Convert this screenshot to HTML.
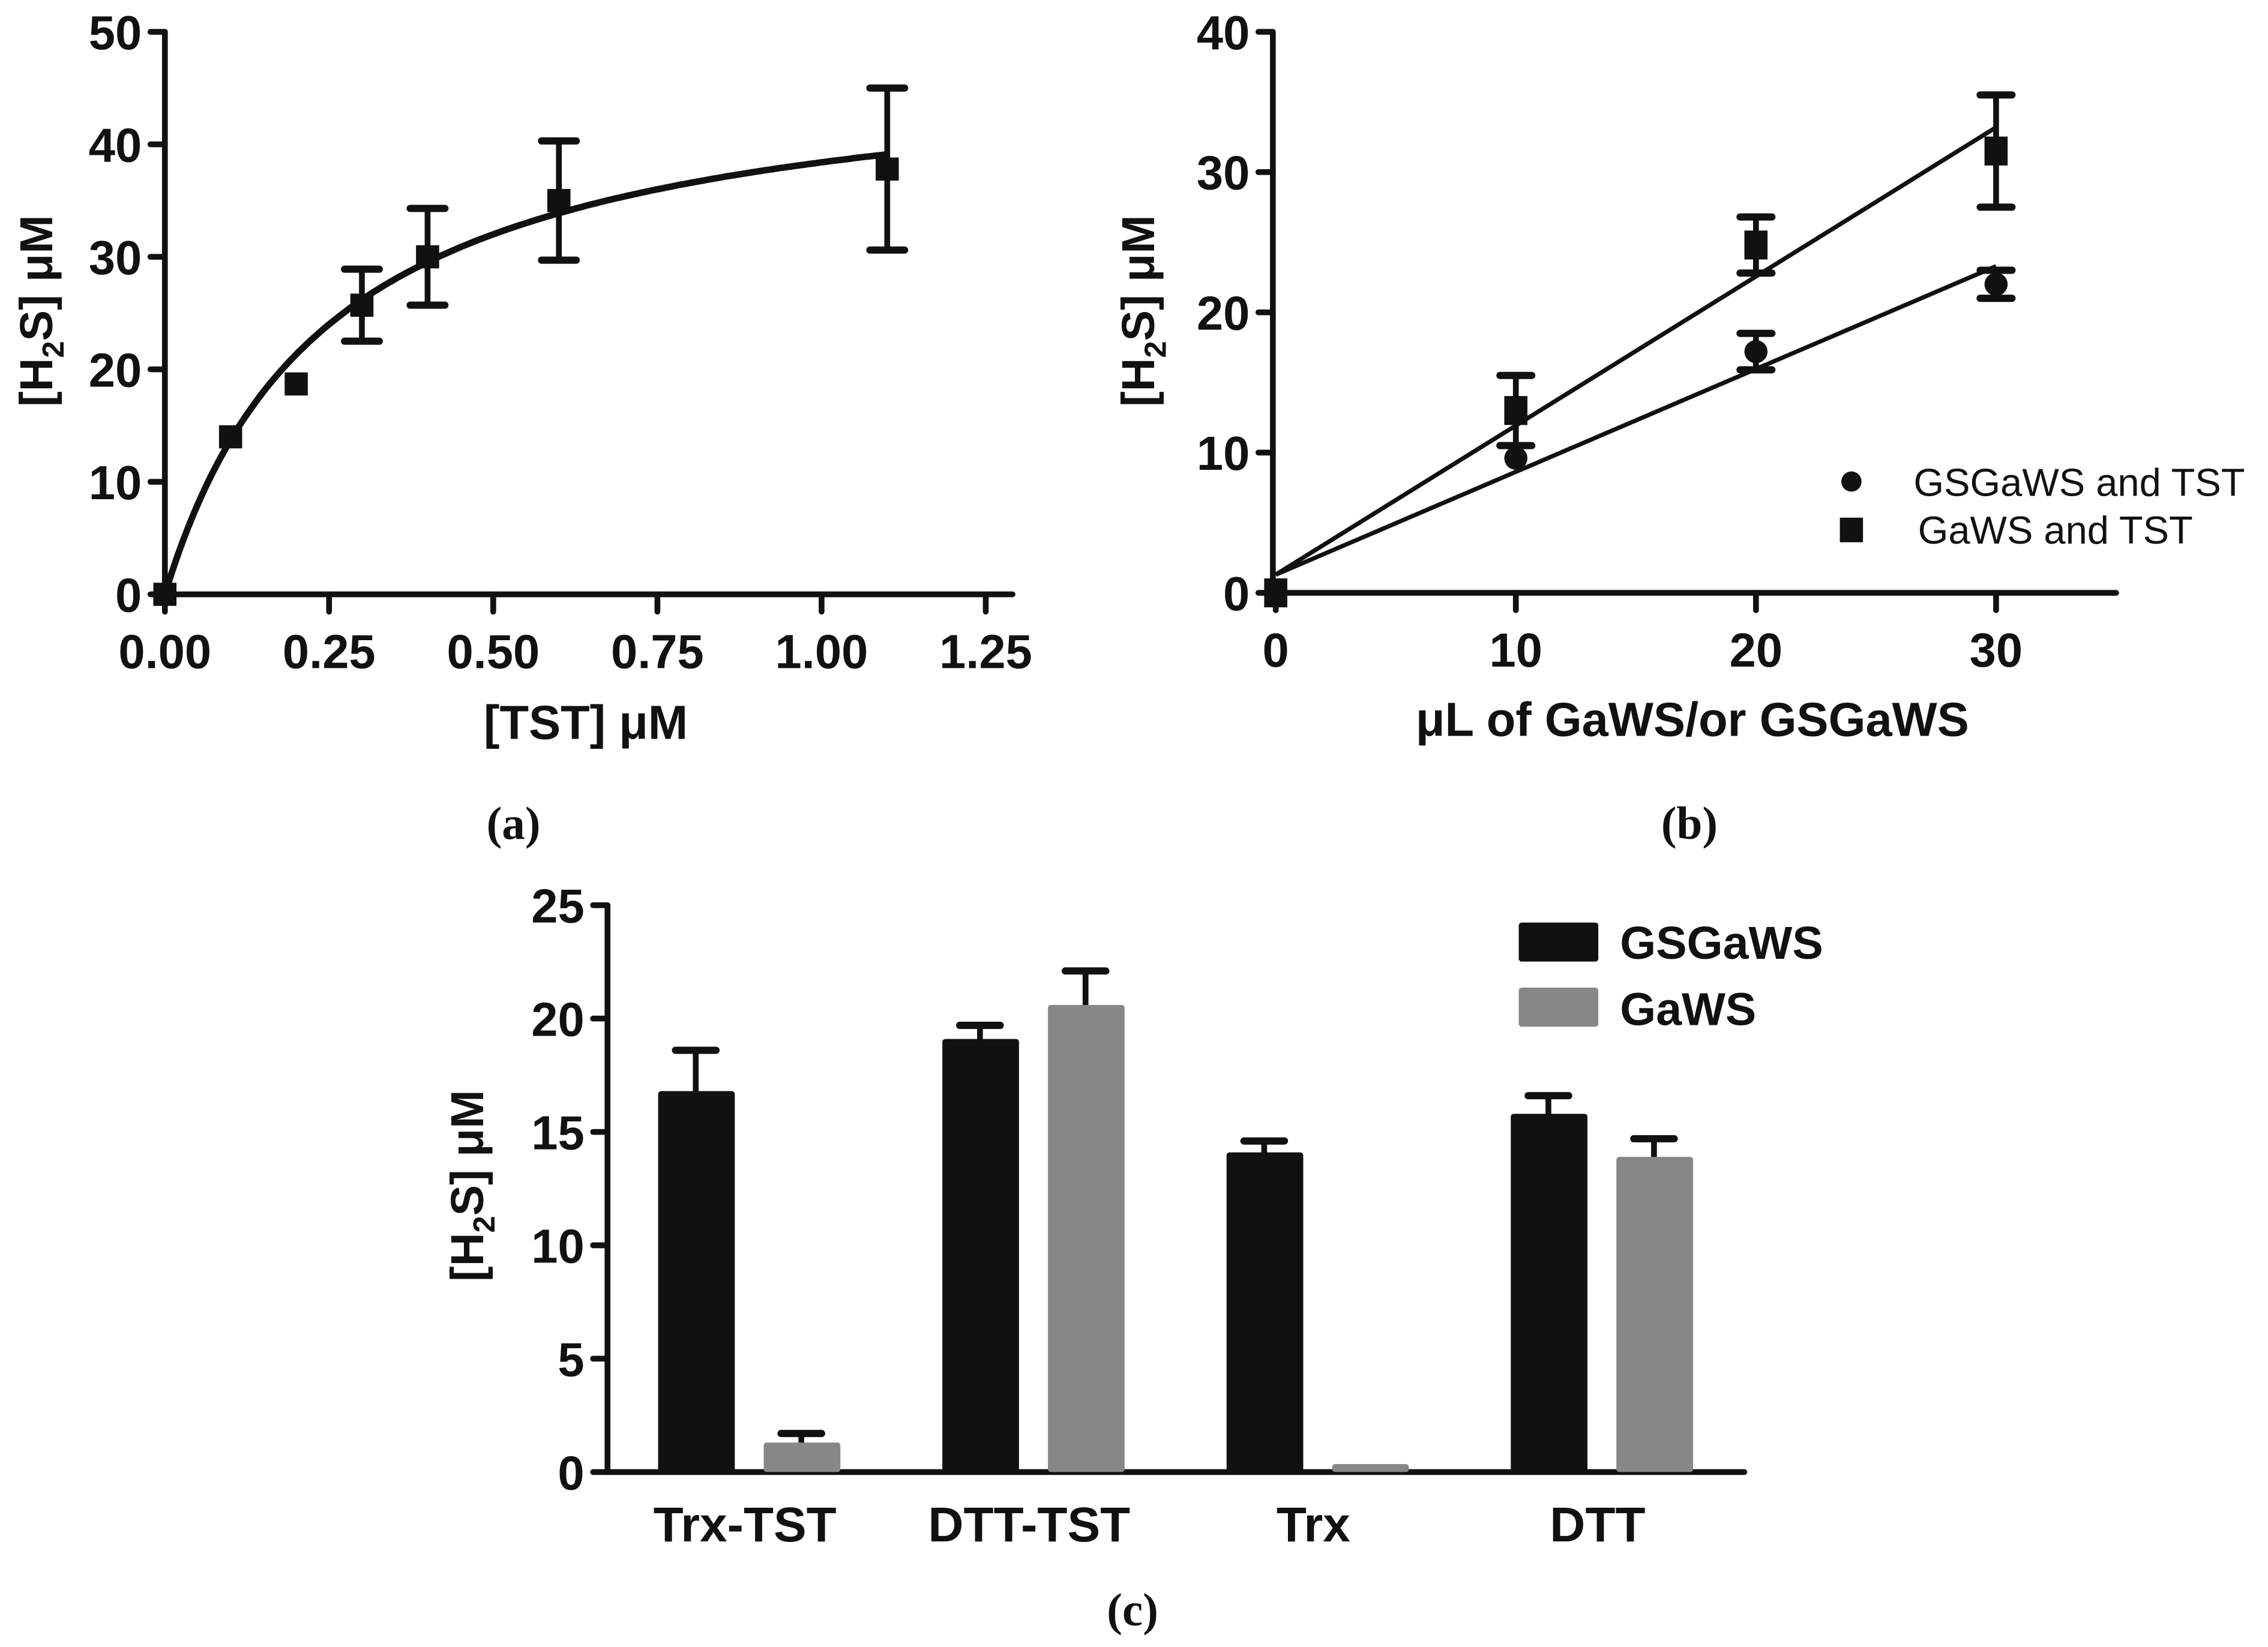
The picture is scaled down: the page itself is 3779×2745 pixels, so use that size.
<!DOCTYPE html>
<html><head><meta charset="utf-8">
<style>
html,body{margin:0;padding:0;background:#fff;}
svg{display:block;}
text{font-family:"Liberation Sans",Arial,sans-serif;font-weight:bold;fill:#111;}
.serif{font-family:"Liberation Serif",serif;}
</style></head>
<body>
<svg id="fig" width="3779" height="2745" viewBox="0 0 1568 1139" preserveAspectRatio="none" xmlns="http://www.w3.org/2000/svg">
<g id="pa"></g>
<g id="pb"></g>
<g id="pc"></g>
<text x="355" y="580" font-size="32" text-anchor="middle" class="serif">(a)</text>
<text x="1168" y="580" font-size="32" text-anchor="middle" class="serif">(b)</text>
<text x="783" y="1124" font-size="32" text-anchor="middle" class="serif">(c)</text>
</svg>
<script>
// Panel a data
const aX = [0, 0.1, 0.2, 0.3, 0.4, 0.6, 1.1];
const aY = [0, 14, 18.7, 25.7, 30, 35, 37.8];
const aErr = [0, 0, 0, 3.2, 4.3, 5.3, 7.2];
const aFit = [48, 0.25]; // Vmax, Km
const aXTicks = ["0.00","0.25","0.50","0.75","1.00","1.25"];
const aYTicks = [0,10,20,30,40,50];
// Panel b data
const bX = [0, 10, 20, 30];
const bCircle = [0, 9.6, 17.2, 22];
const bCircleErr = [0, 0, 1.3, 1];
const bSquare = [0, 13, 24.8, 31.5];
const bSquareErr = [0, 2.5, 2, 4];
const bCircleFit = [1.3, 0.733]; // intercept, slope
const bSquareFit = [1.3, 1.063];
const bXTicks = [0, 10, 20, 30];
const bYTicks = [0, 10, 20, 30, 40];
// Panel c data
const cCats = ["Trx-TST","DTT-TST","Trx","DTT"];
const cGS = [16.8, 19.1, 14.1, 15.8];
const cGSErr = [1.8, 0.6, 0.5, 0.8];
const cGa = [1.3, 20.6, 0.35, 13.9];
const cGaErr = [0.4, 1.5, 0, 0.8];
const cYTicks = [0, 5, 10, 15, 20, 25];

const NS = "http://www.w3.org/2000/svg";
const FS = 33;
function mk(parent, tag, attrs, txt){
  const e = document.createElementNS(NS, tag);
  for (const k in attrs) e.setAttribute(k, attrs[k]);
  if (txt !== undefined) e.textContent = txt;
  parent.appendChild(e); return e;
}
function line(p,x1,y1,x2,y2,w,name){
  const l = mk(p,'line',{x1:x1,y1:y1,x2:x2,y2:y2,stroke:'#111','stroke-width':w,'stroke-linecap':'round'});
  
  
  return l;
}
function errbar(p,x,yc,yt,yb,cap,name){
  const g = mk(p,'g',{});
  
  
  line(g,x,yt,x,yb,4,'error-stem');
  line(g,x-cap,yt,x+cap,yt,5,'error-cap');
  if (yb !== yc) line(g,x-cap,yb,x+cap,yb,5,'error-cap');
}
function yTitle(p,cx,cy,name){
  const t = mk(p,'text',{x:0,y:0,'font-size':32,'text-anchor':'middle',transform:`translate(${cx},${cy}) rotate(-90)`});
  
  
  t.innerHTML = '[H<tspan font-size="21" dy="8">2</tspan><tspan dy="-8">S] μM</tspan>';
}

// ---------- Panel a ----------
(function(){
  const p = document.getElementById('pa');
  const X = v => 114 + v*454, Y = v => 411 - v*7.78;
  line(p,114,Y(50),114,411,4,'y-axis');
  line(p,114,411,700,411,4,'x-axis');
  aYTicks.forEach(v=>{
    line(p,104,Y(v),114,Y(v),4,'y-tick');
    const t = mk(p,'text',{x:98,y:Y(v)+12,'font-size':FS,'text-anchor':'end'},String(v));
    
    
  });
  aXTicks.forEach(s=>{
    const v = parseFloat(s);
    line(p,X(v),411,X(v),423,4,'x-tick');
    const t = mk(p,'text',{x:X(v),y:462,'font-size':FS,'text-anchor':'middle'},s);
    
    
  });
  yTitle(p,36,215,'y-axis-title');
  const xt = mk(p,'text',{x:405,y:511,'font-size':33,'text-anchor':'middle'},'[TST] μM');
  
  
  let d = '';
  for (let i=0;i<=200;i++){ const v = 1.1*i/200; const y = aFit[0]*v/(aFit[1]+v); d += (i?'L':'M')+X(v).toFixed(1)+','+Y(y).toFixed(1); }
  const c = mk(p,'path',{d:d,fill:'none',stroke:'#111','stroke-width':4.5});
  
  
  aX.forEach((v,i)=>{
    if (aErr[i]>0) errbar(p,X(v),Y(aY[i]),Y(aY[i]+aErr[i]),Y(aY[i]-aErr[i]),12,'error-bar');
    const r = mk(p,'rect',{x:X(v)-8,y:Y(aY[i])-8,width:16,height:16,fill:'#111'});
    
    
  });
})();

// ---------- Panel b ----------
(function(){
  const p = document.getElementById('pb');
  const X = v => 882 + v*16.6, Y = v => 410 - v*9.7;
  line(p,880,Y(40),880,410,4,'y-axis');
  line(p,880,410,1463,410,4,'x-axis');
  bYTicks.forEach(v=>{
    line(p,870,Y(v),880,Y(v),4,'y-tick');
    const t = mk(p,'text',{x:864,y:Y(v)+12,'font-size':FS,'text-anchor':'end'},String(v));
    
    
  });
  bXTicks.forEach(v=>{
    line(p,X(v),410,X(v),422,4,'x-tick');
    const t = mk(p,'text',{x:X(v),y:461,'font-size':FS,'text-anchor':'middle'},String(v));
    
    
  });
  yTitle(p,798,215,'y-axis-title');
  const xt = mk(p,'text',{x:1170,y:509,'font-size':33,'text-anchor':'middle'},'μL of GaWS/or GSGaWS');
  
  
  [[bCircleFit,'circle-fit-line'],[bSquareFit,'square-fit-line']].forEach(([f,n])=>{
    const l = mk(p,'line',{x1:X(0),y1:Y(f[0]),x2:X(30),y2:Y(f[0]+f[1]*30),stroke:'#111','stroke-width':3});
    
    
  });
  bX.forEach((v,i)=>{
    if (bCircleErr[i]>0) errbar(p,X(v),Y(bCircle[i]),Y(bCircle[i]+bCircleErr[i]),Y(bCircle[i]-bCircleErr[i]),11,'circle-error-bar');
    const c = mk(p,'circle',{cx:X(v),cy:Y(bCircle[i]),r:8,fill:'#111'});
    
    
  });
  bX.forEach((v,i)=>{
    if (bSquareErr[i]>0) errbar(p,X(v),Y(bSquare[i]),Y(bSquare[i]+bSquareErr[i]),Y(bSquare[i]-bSquareErr[i]),11,'square-error-bar');
    const r = mk(p,'rect',{x:X(v)-8,y:Y(bSquare[i])-10,width:16,height:20,fill:'#111'});
    
    
  });
  const lg = mk(p,'g',{});
  
  
  const lc = mk(lg,'circle',{cx:1280,cy:333,r:7,fill:'#111'});
  
  
  const t1 = mk(lg,'text',{x:1323,y:343,'font-size':27,style:'font-weight:normal'},'GSGaWS and TST');
  
  
  const ls = mk(lg,'rect',{x:1272,y:358,width:16,height:17,fill:'#111'});
  
  
  const t2 = mk(lg,'text',{x:1326,y:376,'font-size':27,style:'font-weight:normal'},'GaWS and TST');
  
  
})();

// ---------- Panel c ----------
(function(){
  const p = document.getElementById('pc');
  const Y = v => 1018 - v*15.68;
  const centers = cCats.map((_,i)=>517 + i*196.5);
  line(p,420,Y(25),420,1018,4,'y-axis');
  line(p,420,1018,1206,1018,4,'x-axis');
  cYTicks.forEach(v=>{
    line(p,410,Y(v),420,Y(v),4,'y-tick');
    const t = mk(p,'text',{x:404,y:Y(v)+12,'font-size':FS,'text-anchor':'end'},String(v));
    
    
  });
  yTitle(p,334,820,'y-axis-title');
  cCats.forEach((c,i)=>{
    const cx = centers[i];
    const xb = cx-62, xg = cx+11;
    if (cGSErr[i]>0) errbar(p,xb+26,Y(cGS[i]),Y(cGS[i]+cGSErr[i]),Y(cGS[i]),14,'gsgaws-error-bar');
    const b = mk(p,'rect',{x:xb,y:Y(cGS[i]),width:53,height:Y(0)-Y(cGS[i]),fill:'#111',rx:2});
    
    
    if (cGaErr[i]>0) errbar(p,xg+26,Y(cGa[i]),Y(cGa[i]+cGaErr[i]),Y(cGa[i]),14,'gaws-error-bar');
    const g = mk(p,'rect',{x:xg,y:Y(cGa[i]),width:53,height:Y(0)-Y(cGa[i]),fill:'#878787',rx:2});
    
    
    const t = mk(p,'text',{x:cx-2,y:1066,'font-size':34,'text-anchor':'middle'},c);
    
    
  });
  const lg = mk(p,'g',{});
  
  
  const r1 = mk(lg,'rect',{x:1050,y:638,width:55,height:27,fill:'#111',rx:2});
  
  
  const t1 = mk(lg,'text',{x:1120,y:663,'font-size':32},'GSGaWS');
  
  
  const r2 = mk(lg,'rect',{x:1050,y:683,width:55,height:27,fill:'#878787',rx:2});
  
  
  const t2 = mk(lg,'text',{x:1120,y:709,'font-size':32},'GaWS');
  
  
})();
</script>
</body></html>
